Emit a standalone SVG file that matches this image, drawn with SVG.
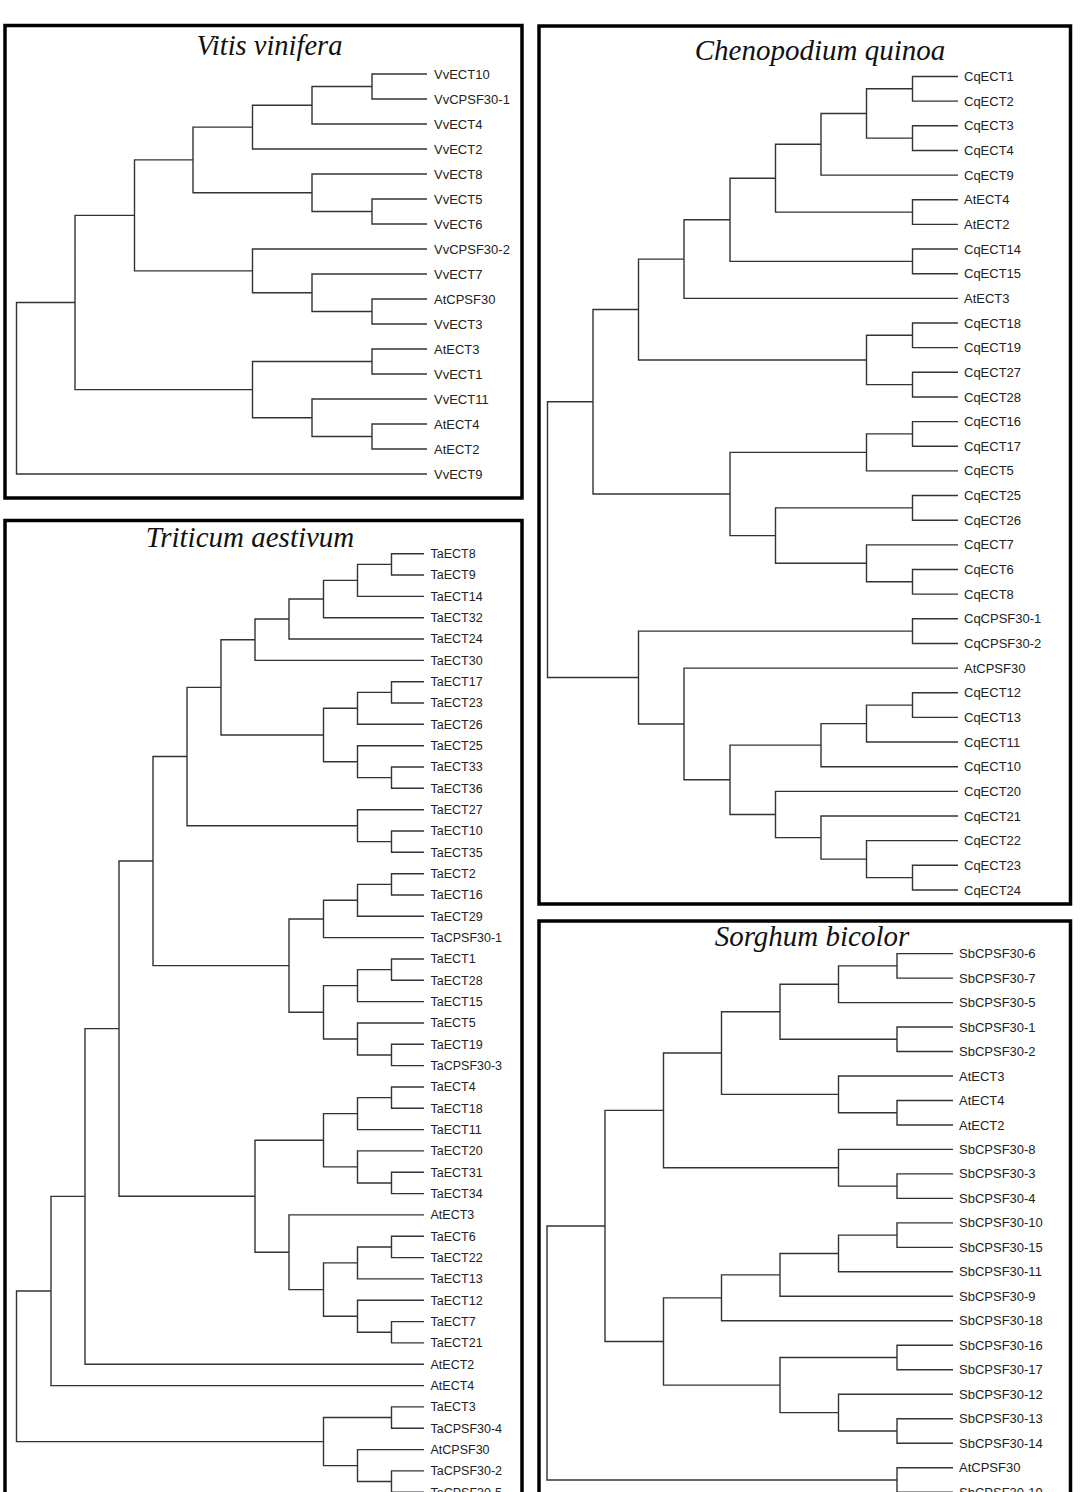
<svg xmlns="http://www.w3.org/2000/svg" width="1080" height="1492" viewBox="0 0 1080 1492">
<style>
.box{fill:none;stroke:#000;stroke-width:3.5}
.t{font-family:"Liberation Serif","Times New Roman",serif;font-style:italic;font-size:29px;fill:#111;text-anchor:middle}
.e{fill:none;stroke:#333;stroke-width:1.4}
.l{font-family:"Liberation Sans",Arial,sans-serif;font-size:13px;fill:#222}
.s{font-size:12.5px}
</style>
<rect width="1080" height="1492" fill="#fff"/>
<g id="panels">
<rect class="box" x="5" y="25.5" width="517" height="472.5"/>
<rect class="box" x="539" y="26" width="531.5" height="878"/>
<rect class="box" x="5" y="520.5" width="517" height="1000"/>
<rect class="box" x="539" y="921" width="531.5" height="1000"/>
</g>
<g id="titles">
<text class="t" x="269.5" y="55" style="font-size:28.5px">Vitis vinifera</text>
<text class="t" x="820" y="59.5">Chenopodium quinoa</text>
<text class="t" x="250" y="547">Triticum aestivum</text>
<text class="t" x="812" y="946">Sorghum bicolor</text>
</g>
<g id="connectors" class="e">
<path d="M427 74H372V99H427M372 86.5H312V124H427M312 105.25H252.5V149H427M427 199H372V224H427M427 174H312V211.5H372M252.5 127.1H193V192.75H312M427 299H372V324H427M427 274H312V311.5H372M427 249H252.5V292.75H312M193 159.9H134.5V270.9H252.5M427 349H372V374H427M427 424H372V449H427M427 399H312V436.5H372M372 361.5H252.5V417.75H312M134.5 215.4H75V389.6H252.5M75 302.5H16.5V474H427"/>
<path d="M958 76.5H912.5V101.15H958M958 125.8H912.5V150.45H958M912.5 88.8H866.5V138.1H912.5M866.5 113.45H821V175.1H958M958 199.75H912.5V224.4H958M821 144.3H775.5V212.1H912.5M958 249.05H912.5V273.7H958M775.5 178.2H730V261.4H912.5M730 219.8H684V298.35H958M958 323H912.5V347.65H958M958 372.3H912.5V396.95H958M912.5 335.3H866.5V384.6H912.5M684 259.1H638.5V360H866.5M958 421.6H912.5V446.25H958M912.5 433.9H866.5V470.9H958M958 495.55H912.5V520.2H958M958 569.5H912.5V594.15H958M958 544.85H866.5V581.8H912.5M912.5 507.9H775.5V563.3H866.5M866.5 452.4H730V535.6H775.5M638.5 309.5H593V494H730M958 618.8H912.5V643.45H958M958 692.75H912.5V717.4H958M912.5 705.1H866.5V742.05H958M866.5 723.6H821V766.7H958M958 865.3H912.5V889.95H958M958 840.65H866.5V877.6H912.5M958 816H821V859.1H866.5M958 791.35H775.5V837.6H821M821 745.15H730V814.5H775.5M958 668.1H684V779.8H730M912.5 631.1H638.5V724H684M593 401.75H547.5V677.5H638.5"/>
<path d="M424 553.7H391.5V575H424M391.5 564.35H357.5V596.4H424M357.5 580.4H323.5V617.7H424M323.5 599.05H289V639H424M289 619H255V660.4H424M424 681.7H391.5V703H424M391.5 692.35H357.5V724.3H424M424 767H391.5V788.3H424M424 745.7H357.5V777.65H391.5M357.5 708.3H323.5V761.7H357.5M255 639.7H221V735H323.5M424 831H391.5V852.3H424M424 809.7H357.5V841.65H391.5M221 687.35H187V825.7H357.5M424 873.7H391.5V895H424M391.5 884.35H357.5V916.3H424M357.5 900.3H323.5V937.6H424M424 959H391.5V980.3H424M391.5 969.65H357.5V1001.6H424M424 1044.3H391.5V1065.6H424M424 1023H357.5V1054.95H391.5M357.5 985.6H323.5V1039H357.5M323.5 918.95H289V1012.3H323.5M187 756.5H153V965.6H289M424 1087H391.5V1108.3H424M391.5 1097.65H357.5V1129.6H424M424 1172.3H391.5V1193.6H424M424 1150.9H357.5V1182.95H391.5M357.5 1113.6H323.5V1166.9H357.5M424 1236.3H391.5V1257.6H424M391.5 1246.95H357.5V1278.9H424M424 1321.6H391.5V1342.9H424M424 1300.3H357.5V1332.25H391.5M357.5 1262.9H323.5V1316.3H357.5M424 1214.9H289V1289.6H323.5M323.5 1140.25H255V1252.25H289M153 861.05H119V1196.25H255M119 1028.65H85V1364.2H424M85 1196.4H51V1385.6H424M424 1406.9H391.5V1428.2H424M424 1470.9H391.5V1492.2H424M424 1449.6H357.5V1481.55H391.5M391.5 1417.55H323.5V1465.6H357.5M51 1291H16.5V1441.6H323.5"/>
<path d="M953 953.6H897V978.1H953M897 965.85H838.5V1002.6H953M953 1027H897V1051.5H953M838.5 984.2H780V1039.25H897M953 1100.5H897V1125H953M953 1076H838.5V1112.75H897M780 1011.7H721.5V1094.4H838.5M953 1173.9H897V1198.4H953M953 1149.4H838.5V1186.15H897M721.5 1053.05H663.5V1167.8H838.5M953 1222.9H897V1247.4H953M897 1235.15H838.5V1271.8H953M838.5 1253.5H780V1296.3H953M780 1274.9H721.5V1320.8H953M953 1345.3H897V1369.8H953M953 1418.7H897V1443.2H953M953 1394.2H838.5V1430.95H897M897 1357.55H780V1412.6H838.5M721.5 1297.85H663.5V1385.1H780M663.5 1110.4H605V1341.5H663.5M953 1467.7H897V1492.2H953M605 1225.95H547V1479.95H897"/>
</g>
<g id="vitis-leaves" class="l" transform="translate(434,4.6)">
<g id="vv-VvECT10"><text y="74">VvECT10</text></g>
<g id="vv-VvCPSF30-1"><text y="99">VvCPSF30-1</text></g>
<g id="vv-VvECT4"><text y="124">VvECT4</text></g>
<g id="vv-VvECT2"><text y="149">VvECT2</text></g>
<g id="vv-VvECT8"><text y="174">VvECT8</text></g>
<g id="vv-VvECT5"><text y="199">VvECT5</text></g>
<g id="vv-VvECT6"><text y="224">VvECT6</text></g>
<g id="vv-VvCPSF30-2"><text y="249">VvCPSF30-2</text></g>
<g id="vv-VvECT7"><text y="274">VvECT7</text></g>
<g id="vv-AtCPSF30"><text y="299">AtCPSF30</text></g>
<g id="vv-VvECT3"><text y="324">VvECT3</text></g>
<g id="vv-AtECT3"><text y="349">AtECT3</text></g>
<g id="vv-VvECT1"><text y="374">VvECT1</text></g>
<g id="vv-VvECT11"><text y="399">VvECT11</text></g>
<g id="vv-AtECT4"><text y="424">AtECT4</text></g>
<g id="vv-AtECT2"><text y="449">AtECT2</text></g>
<g id="vv-VvECT9"><text y="474">VvECT9</text></g>
</g>
<g id="quinoa-leaves" class="l" transform="translate(964,4.6)">
<g id="cq-CqECT1"><text y="76.5">CqECT1</text></g>
<g id="cq-CqECT2"><text y="101.15">CqECT2</text></g>
<g id="cq-CqECT3"><text y="125.8">CqECT3</text></g>
<g id="cq-CqECT4"><text y="150.45">CqECT4</text></g>
<g id="cq-CqECT9"><text y="175.1">CqECT9</text></g>
<g id="cq-AtECT4"><text y="199.75">AtECT4</text></g>
<g id="cq-AtECT2"><text y="224.4">AtECT2</text></g>
<g id="cq-CqECT14"><text y="249.05">CqECT14</text></g>
<g id="cq-CqECT15"><text y="273.7">CqECT15</text></g>
<g id="cq-AtECT3"><text y="298.35">AtECT3</text></g>
<g id="cq-CqECT18"><text y="323">CqECT18</text></g>
<g id="cq-CqECT19"><text y="347.65">CqECT19</text></g>
<g id="cq-CqECT27"><text y="372.3">CqECT27</text></g>
<g id="cq-CqECT28"><text y="396.95">CqECT28</text></g>
<g id="cq-CqECT16"><text y="421.6">CqECT16</text></g>
<g id="cq-CqECT17"><text y="446.25">CqECT17</text></g>
<g id="cq-CqECT5"><text y="470.9">CqECT5</text></g>
<g id="cq-CqECT25"><text y="495.55">CqECT25</text></g>
<g id="cq-CqECT26"><text y="520.2">CqECT26</text></g>
<g id="cq-CqECT7"><text y="544.85">CqECT7</text></g>
<g id="cq-CqECT6"><text y="569.5">CqECT6</text></g>
<g id="cq-CqECT8"><text y="594.15">CqECT8</text></g>
<g id="cq-CqCPSF30-1"><text y="618.8">CqCPSF30-1</text></g>
<g id="cq-CqCPSF30-2"><text y="643.45">CqCPSF30-2</text></g>
<g id="cq-AtCPSF30"><text y="668.1">AtCPSF30</text></g>
<g id="cq-CqECT12"><text y="692.75">CqECT12</text></g>
<g id="cq-CqECT13"><text y="717.4">CqECT13</text></g>
<g id="cq-CqECT11"><text y="742.05">CqECT11</text></g>
<g id="cq-CqECT10"><text y="766.7">CqECT10</text></g>
<g id="cq-CqECT20"><text y="791.35">CqECT20</text></g>
<g id="cq-CqECT21"><text y="816">CqECT21</text></g>
<g id="cq-CqECT22"><text y="840.65">CqECT22</text></g>
<g id="cq-CqECT23"><text y="865.3">CqECT23</text></g>
<g id="cq-CqECT24"><text y="889.95">CqECT24</text></g>
</g>
<g id="wheat-leaves" class="l s" transform="translate(430.5,4.4)">
<g id="ta-TaECT8"><text y="553.7">TaECT8</text></g>
<g id="ta-TaECT9"><text y="575">TaECT9</text></g>
<g id="ta-TaECT14"><text y="596.4">TaECT14</text></g>
<g id="ta-TaECT32"><text y="617.7">TaECT32</text></g>
<g id="ta-TaECT24"><text y="639">TaECT24</text></g>
<g id="ta-TaECT30"><text y="660.4">TaECT30</text></g>
<g id="ta-TaECT17"><text y="681.7">TaECT17</text></g>
<g id="ta-TaECT23"><text y="703">TaECT23</text></g>
<g id="ta-TaECT26"><text y="724.3">TaECT26</text></g>
<g id="ta-TaECT25"><text y="745.7">TaECT25</text></g>
<g id="ta-TaECT33"><text y="767">TaECT33</text></g>
<g id="ta-TaECT36"><text y="788.3">TaECT36</text></g>
<g id="ta-TaECT27"><text y="809.7">TaECT27</text></g>
<g id="ta-TaECT10"><text y="831">TaECT10</text></g>
<g id="ta-TaECT35"><text y="852.3">TaECT35</text></g>
<g id="ta-TaECT2"><text y="873.7">TaECT2</text></g>
<g id="ta-TaECT16"><text y="895">TaECT16</text></g>
<g id="ta-TaECT29"><text y="916.3">TaECT29</text></g>
<g id="ta-TaCPSF30-1"><text y="937.6">TaCPSF30-1</text></g>
<g id="ta-TaECT1"><text y="959">TaECT1</text></g>
<g id="ta-TaECT28"><text y="980.3">TaECT28</text></g>
<g id="ta-TaECT15"><text y="1001.6">TaECT15</text></g>
<g id="ta-TaECT5"><text y="1023">TaECT5</text></g>
<g id="ta-TaECT19"><text y="1044.3">TaECT19</text></g>
<g id="ta-TaCPSF30-3"><text y="1065.6">TaCPSF30-3</text></g>
<g id="ta-TaECT4"><text y="1087">TaECT4</text></g>
<g id="ta-TaECT18"><text y="1108.3">TaECT18</text></g>
<g id="ta-TaECT11"><text y="1129.6">TaECT11</text></g>
<g id="ta-TaECT20"><text y="1150.9">TaECT20</text></g>
<g id="ta-TaECT31"><text y="1172.3">TaECT31</text></g>
<g id="ta-TaECT34"><text y="1193.6">TaECT34</text></g>
<g id="ta-AtECT3"><text y="1214.9">AtECT3</text></g>
<g id="ta-TaECT6"><text y="1236.3">TaECT6</text></g>
<g id="ta-TaECT22"><text y="1257.6">TaECT22</text></g>
<g id="ta-TaECT13"><text y="1278.9">TaECT13</text></g>
<g id="ta-TaECT12"><text y="1300.3">TaECT12</text></g>
<g id="ta-TaECT7"><text y="1321.6">TaECT7</text></g>
<g id="ta-TaECT21"><text y="1342.9">TaECT21</text></g>
<g id="ta-AtECT2"><text y="1364.2">AtECT2</text></g>
<g id="ta-AtECT4"><text y="1385.6">AtECT4</text></g>
<g id="ta-TaECT3"><text y="1406.9">TaECT3</text></g>
<g id="ta-TaCPSF30-4"><text y="1428.2">TaCPSF30-4</text></g>
<g id="ta-AtCPSF30"><text y="1449.6">AtCPSF30</text></g>
<g id="ta-TaCPSF30-2"><text y="1470.9">TaCPSF30-2</text></g>
<g id="ta-TaCPSF30-5"><text y="1492.2">TaCPSF30-5</text></g>
</g>
<g id="sorghum-leaves" class="l" transform="translate(959,4.6)">
<g id="sb-SbCPSF30-6"><text y="953.6">SbCPSF30-6</text></g>
<g id="sb-SbCPSF30-7"><text y="978.1">SbCPSF30-7</text></g>
<g id="sb-SbCPSF30-5"><text y="1002.6">SbCPSF30-5</text></g>
<g id="sb-SbCPSF30-1"><text y="1027">SbCPSF30-1</text></g>
<g id="sb-SbCPSF30-2"><text y="1051.5">SbCPSF30-2</text></g>
<g id="sb-AtECT3"><text y="1076">AtECT3</text></g>
<g id="sb-AtECT4"><text y="1100.5">AtECT4</text></g>
<g id="sb-AtECT2"><text y="1125">AtECT2</text></g>
<g id="sb-SbCPSF30-8"><text y="1149.4">SbCPSF30-8</text></g>
<g id="sb-SbCPSF30-3"><text y="1173.9">SbCPSF30-3</text></g>
<g id="sb-SbCPSF30-4"><text y="1198.4">SbCPSF30-4</text></g>
<g id="sb-SbCPSF30-10"><text y="1222.9">SbCPSF30-10</text></g>
<g id="sb-SbCPSF30-15"><text y="1247.4">SbCPSF30-15</text></g>
<g id="sb-SbCPSF30-11"><text y="1271.8">SbCPSF30-11</text></g>
<g id="sb-SbCPSF30-9"><text y="1296.3">SbCPSF30-9</text></g>
<g id="sb-SbCPSF30-18"><text y="1320.8">SbCPSF30-18</text></g>
<g id="sb-SbCPSF30-16"><text y="1345.3">SbCPSF30-16</text></g>
<g id="sb-SbCPSF30-17"><text y="1369.8">SbCPSF30-17</text></g>
<g id="sb-SbCPSF30-12"><text y="1394.2">SbCPSF30-12</text></g>
<g id="sb-SbCPSF30-13"><text y="1418.7">SbCPSF30-13</text></g>
<g id="sb-SbCPSF30-14"><text y="1443.2">SbCPSF30-14</text></g>
<g id="sb-AtCPSF30"><text y="1467.7">AtCPSF30</text></g>
<g id="sb-SbCPSF30-19"><text y="1492.2">SbCPSF30-19</text></g>
</g>
</svg>
